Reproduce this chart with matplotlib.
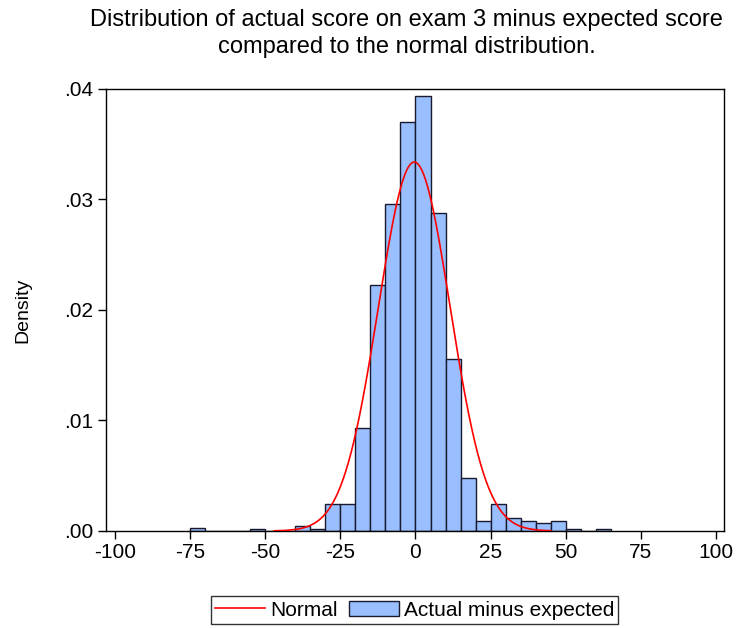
import numpy as np
import matplotlib
matplotlib.use("Agg")
from matplotlib import pyplot as plt
from matplotlib.ticker import FuncFormatter

plt.rcParams['font.family'] = ['Liberation Sans', 'DejaVu Sans']
plt.rcParams['axes.unicode_minus'] = False

# histogram bins (left edges, width 5) and densities
bin_left = [-75, -70, -65, -60, -55, -50, -45, -40, -35, -30, -25, -20, -15, -10,
            -5, 0, 5, 10, 15, 20, 25, 30, 35, 40, 45, 50, 55, 60]
density = [0.0003, 0.0, 0.0, 0.0, 0.00015, 0.0, 0.0, 0.00045, 0.00015, 0.00242,
           0.00242, 0.00936, 0.0223, 0.0296, 0.0370, 0.0394, 0.0288, 0.01554,
           0.00483, 0.0009, 0.00242, 0.00121, 0.0009, 0.00076, 0.0009, 0.00015,
           0.0, 0.00015]
bin_width = 5

# fitted normal
mu = -0.4
sigma = 11.95
curve_range = (-47, 45)

fig = plt.figure(figsize=(7.48, 6.28), dpi=100)
ax = fig.add_axes([0.1417, 0.1545, 0.8263, 0.7038])

ax.bar(bin_left, density, width=bin_width, align='edge', color='#99bfff',
       edgecolor='#1a1a2e', linewidth=1.0, label='Actual minus expected', zorder=2)

xs = np.linspace(curve_range[0], curve_range[1], 400)
ys = np.exp(-0.5 * ((xs - mu) / sigma) ** 2) / (sigma * np.sqrt(2 * np.pi))
ax.plot(xs, ys, color='red', linewidth=1.2, label='Normal', zorder=3)

ax.set_xlim(-103, 102.7)
ax.set_ylim(0, 0.04)
ax.set_xticks([-100, -75, -50, -25, 0, 25, 50, 75, 100])
ax.set_yticks([0, 0.01, 0.02, 0.03, 0.04])
ax.yaxis.set_major_formatter(FuncFormatter(lambda v, p: ('%.2f' % v)[1:]))
ax.tick_params(direction='out', length=6, labelsize=15, width=1, pad=3)
for s in ax.spines.values():
    s.set_linewidth(1.0)

ax.set_ylabel('Density', fontsize=14, labelpad=24)
fig.text(0.544, 1 - 9 / 628, 'Distribution of actual score on exam 3 minus expected score\ncompared to the normal distribution.',
         ha='center', va='top', fontsize=17, linespacing=1.3)

handles, labels = ax.get_legend_handles_labels()
leg = fig.legend(handles, labels, loc='center', bbox_to_anchor=(0.5545, 0.0285), ncol=2,
                 frameon=True, fancybox=False, edgecolor='black', fontsize=15,
                 handlelength=2.4, handletextpad=0.25, columnspacing=0.5,
                 borderpad=0.2, borderaxespad=0)
leg.get_frame().set_linewidth(1.0)

fig.savefig('out.png', dpi=100)
